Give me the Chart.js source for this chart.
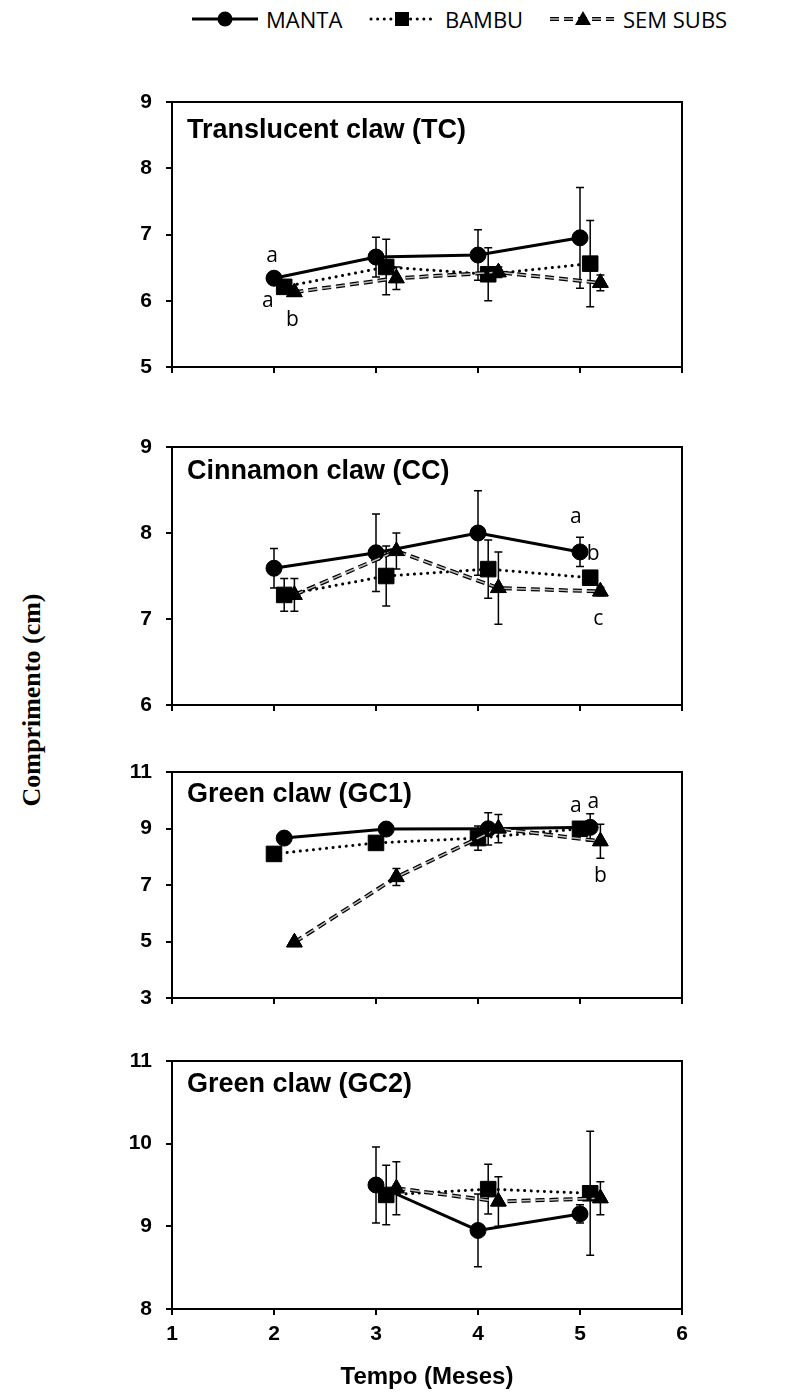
<!DOCTYPE html>
<html>
<head>
<meta charset="utf-8">
<script src="https://cdn.jsdelivr.net/npm/chart.js@4.4.1/dist/chart.umd.min.js"></script>
<style>
  body { margin: 0; background: #fff; width: 787px; height: 1393px; position: relative; overflow: hidden; }
  canvas.panel { position: absolute; left: 90px; }
  .leg { position: absolute; top: -1px; font-family: 'Open Sans', sans-serif; font-size: 22px; line-height: 40px; color: #000; white-space: nowrap; }
  .legsvg { position: absolute; top: 8px; }
  #ytitle {
    position: absolute; left: -98px; top: 684px; width: 260px; height: 32px;
    font-family: 'Liberation Serif', 'Times New Roman', serif; font-weight: bold; font-size: 26px;
    line-height: 32px; text-align: center; transform: rotate(-90deg); color: #000;
  }
</style>
</head>
<body>

<svg class="legsvg" style="left:190px" width="70" height="22">
  <line x1="2" y1="11" x2="68" y2="11" stroke="#000" stroke-width="3"/>
  <circle cx="35" cy="11" r="7.5" fill="#000"/>
</svg>
<div class="leg" style="left:266px">MANTA</div>
<svg class="legsvg" style="left:368px" width="68" height="22">
  <line x1="3" y1="11" x2="65" y2="11" stroke="#000" stroke-width="3" stroke-dasharray="0.1 6.5" stroke-linecap="round"/>
  <rect x="27" y="4" width="14" height="14" fill="#000"/>
</svg>
<div class="leg" style="left:445px">BAMBU</div>
<svg class="legsvg" style="left:549px" width="66" height="22">
  <line x1="1" y1="11" x2="65" y2="11" stroke="#000" stroke-width="4" stroke-dasharray="9 5"/>
  <line x1="1" y1="11" x2="65" y2="11" stroke="#bbb" stroke-width="1.5" stroke-dasharray="9 5"/>
  <polygon points="34,3 42,17 26,17" fill="#000"/>
</svg>
<div class="leg" style="left:623px">SEM SUBS</div>

<div id="ytitle">Comprimento (cm)</div>

<canvas class="panel" id="c1"></canvas>
<canvas class="panel" id="c2"></canvas>
<canvas class="panel" id="c3"></canvas>
<canvas class="panel" id="c4"></canvas>

<script>
// ---- data ----
const months = [2, 3, 4, 5];
const monthsGC2 = [3, 4, 5];
const xTicks = [1, 2, 3, 4, 5, 6];

// Translucent claw (TC)
const tcManta = [6.34, 6.66, 6.69, 6.95];
const tcMantaErr = [0.04, 0.30, 0.38, 0.76];
const tcBambu = [6.21, 6.51, 6.40, 6.56];
const tcBambuErr = [0.04, 0.42, 0.40, 0.65];
const tcSem = [6.13, 6.34, 6.43, 6.27];
const tcSemErr = [0.04, 0.17, 0.08, 0.12];
const tcLetters = [['a', 1.98, 6.67], ['a', 1.94, 5.99], ['b', 2.18, 5.71]];

// Cinnamon claw (CC)
const ccManta = [7.59, 7.77, 8.00, 7.78];
const ccMantaErr = [0.23, 0.45, 0.49, 0.17];
const ccBambu = [7.28, 7.50, 7.58, 7.48];
const ccBambuErr = [0.19, 0.35, 0.34, 0.05];
const ccSem = [7.28, 7.79, 7.36, 7.32];
const ccSemErr = [0.19, 0.21, 0.42, 0.05];
const ccLetters = [['a', 4.96, 8.19], ['b', 5.13, 7.75], ['c', 5.18, 7.0]];

// Green claw (GC1)
const gc1Manta = [8.66, 8.98, 8.99, 9.04];
const gc1MantaErr = [0.05, 0.05, 0.57, 0.48];
const gc1Bambu = [8.10, 8.49, 8.66, 8.99];
const gc1BambuErr = [0.05, 0.05, 0.43, 0.05];
const gc1Sem = [4.97, 7.28, 9.00, 8.55];
const gc1SemErr = [0.05, 0.30, 0.50, 0.60];
const gc1Letters = [['a', 4.96, 9.78], ['a', 5.13, 9.93], ['b', 5.20, 7.31]];

// Green claw (GC2)
const gc2Manta = [9.50, 8.95, 9.15];
const gc2MantaErr = [0.46, 0.44, 0.11];
const gc2Bambu = [9.38, 9.45, 9.40];
const gc2BambuErr = [0.36, 0.30, 0.75];
const gc2Sem = [9.46, 9.30, 9.34];
const gc2SemErr = [0.32, 0.30, 0.20];

// ---- styles ----
const seriesStyle = [
  { label: 'MANTA', borderWidth: 3, borderDash: [], pointStyle: 'circle', pointRadius: 8, order: 3 },
  { label: 'BAMBU', borderWidth: 3, borderDash: [0.1, 6.5], borderCapStyle: 'round', pointStyle: 'rect', pointRadius: 11, order: 2 },
  { label: 'SEM SUBS', borderWidth: 4, borderDash: [9, 5], pointStyle: 'triangle', pointRadius: 9, order: 1, innerColor: '#bbb' }
];

const panels = [
  { id: 'c1', title: 'Translucent claw (TC)', x: months, shift: [0, 0.1, 0.2],
    values: [tcManta, tcBambu, tcSem], errors: [tcMantaErr, tcBambuErr, tcSemErr], letters: tcLetters,
    yMin: 5, yMax: 9, yStep: 1, top: 87, plotH: 265, titleDy: 29 },
  { id: 'c2', title: 'Cinnamon claw (CC)', x: months, shift: [0, 0.1, 0.2],
    values: [ccManta, ccBambu, ccSem], errors: [ccMantaErr, ccBambuErr, ccSemErr], letters: ccLetters,
    yMin: 6, yMax: 9, yStep: 1, top: 432, plotH: 258, titleDy: 25 },
  { id: 'c3', title: 'Green claw (GC1)', x: months, shift: [0.1, 0, 0.2],
    values: [gc1Manta, gc1Bambu, gc1Sem], errors: [gc1MantaErr, gc1BambuErr, gc1SemErr], letters: gc1Letters,
    yMin: 3, yMax: 11, yStep: 2, top: 757, plotH: 226, titleDy: 23 },
  { id: 'c4', title: 'Green claw (GC2)', x: monthsGC2, shift: [0, 0.1, 0.2],
    values: [gc2Manta, gc2Bambu, gc2Sem], errors: [gc2MantaErr, gc2BambuErr, gc2SemErr], letters: [],
    yMin: 8, yMax: 11, yStep: 1, top: 1046, plotH: 248, titleDy: 24, last: true }
];

const tickFont = { family: "'Liberation Sans', Arial, sans-serif", size: 21, weight: 'bold' };

const errorBars = {
  id: 'errorBars',
  beforeDatasetsDraw(chart) {
    const { ctx, scales: { x, y } } = chart;
    ctx.save();
    ctx.strokeStyle = '#000';
    ctx.lineWidth = 1.5;
    chart.data.datasets.forEach(ds => {
      ds.data.forEach((p, i) => {
        const e = ds.errors[i];
        const px = x.getPixelForValue(p.x);
        const y1 = y.getPixelForValue(p.y + e), y2 = y.getPixelForValue(p.y - e);
        ctx.beginPath();
        ctx.moveTo(px, y1); ctx.lineTo(px, y2);
        ctx.moveTo(px - 4, y1); ctx.lineTo(px + 4, y1);
        ctx.moveTo(px - 4, y2); ctx.lineTo(px + 4, y2);
        ctx.stroke();
      });
    });
    ctx.restore();
  },
  // outlined dashes for SEM SUBS
  afterDatasetDraw(chart, args) {
    const ds = chart.data.datasets[args.index];
    if (!ds.innerColor) return;
    const ctx = chart.ctx, pts = args.meta.data;
    ctx.save();
    ctx.setLineDash(ds.borderDash);
    ctx.strokeStyle = ds.innerColor;
    ctx.lineWidth = 1.5;
    ctx.beginPath();
    pts.forEach((p, i) => i ? ctx.lineTo(p.x, p.y) : ctx.moveTo(p.x, p.y));
    ctx.stroke();
    ctx.restore();
    pts.forEach(p => p.draw(ctx, chart.chartArea));
  }
};

const frameAndText = {
  id: 'frameAndText',
  afterDraw(chart, args, opts) {
    const { ctx, chartArea: a, scales: { x, y } } = chart;
    ctx.save();
    ctx.strokeStyle = '#000';
    ctx.lineWidth = 2;
    ctx.strokeRect(a.left, a.top, a.right - a.left, a.bottom - a.top);
    ctx.fillStyle = '#000';
    ctx.textBaseline = 'middle';
    ctx.textAlign = 'left';
    ctx.font = "bold 27px 'Liberation Sans', Arial, sans-serif";
    ctx.fillText(opts.title, a.left + 15, a.top + opts.titleDy);
    ctx.textAlign = 'center';
    ctx.font = "21px 'Open Sans', sans-serif";
    opts.letters.forEach(([t, lx, ly]) => ctx.fillText(t, x.getPixelForValue(lx), y.getPixelForValue(ly)));
    ctx.restore();
  }
};

panels.forEach(pn => {
  const xH = pn.last ? 84 : 14;
  const canvas = document.getElementById(pn.id);
  canvas.width = 610;
  canvas.height = 15 + pn.plotH + xH;
  canvas.style.top = pn.top + 'px';

  const datasets = seriesStyle.map((s, k) => Object.assign({
    data: pn.x.map((m, i) => ({ x: m + pn.shift[k], y: pn.values[k][i] })),
    errors: pn.errors[k],
    borderColor: '#000',
    backgroundColor: '#000',
    pointBackgroundColor: '#000',
    pointBorderColor: '#000',
    pointBorderWidth: 1,
    tension: 0,
    clip: false
  }, s));

  new Chart(canvas, {
    type: 'line',
    data: { datasets },
    options: {
      responsive: false,
      animation: false,
      events: [],
      layout: { padding: { top: 15, right: 18, left: 0, bottom: 0 } },
      plugins: {
        legend: { display: false },
        tooltip: { enabled: false },
        frameAndText: { title: pn.title, titleDy: pn.titleDy, letters: pn.letters }
      },
      scales: {
        x: {
          type: 'linear', min: xTicks[0], max: xTicks[xTicks.length - 1],
          afterBuildTicks: s => { s.ticks = xTicks.map(v => ({ value: v })); },
          ticks: { display: !!pn.last, font: tickFont, color: '#000', padding: 7 },
          grid: { drawOnChartArea: false, drawTicks: true, tickLength: 6, color: '#000', lineWidth: 2 },
          border: { display: true, color: '#000', width: 2 },
          title: {
            display: !!pn.last, text: 'Tempo (Meses)', color: '#000',
            font: { family: "'Liberation Sans', Arial, sans-serif", size: 24, weight: 'bold' },
            padding: { top: 0, bottom: 1 }
          },
          afterFit: s => { s.height = xH; s.paddingLeft = 0; s.paddingRight = 0; }
        },
        y: {
          min: pn.yMin, max: pn.yMax,
          ticks: { stepSize: pn.yStep, font: tickFont, color: '#000', padding: 14 },
          grid: { drawOnChartArea: false, drawTicks: true, tickLength: 6, color: '#000', lineWidth: 2 },
          border: { display: true, color: '#000', width: 2 },
          afterFit: s => { s.width = 82; s.paddingTop = 0; s.paddingBottom = 0; }
        }
      }
    },
    plugins: [errorBars, frameAndText]
  });
});
</script>
</body>
</html>
